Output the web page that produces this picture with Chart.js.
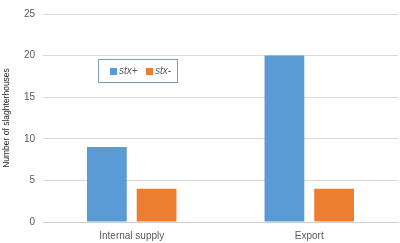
<!DOCTYPE html>
<html lang="en">
<head>
    <meta charset="UTF-8">
    <title>Slaughterhouses</title>
    <script src="https://cdn.jsdelivr.net/npm/chart.js"></script>
    <style>
        html, body { margin: 0; padding: 0; background: #fff; }
        #wrap { width: 400px; height: 243px; position: relative; }
    </style>
</head>
<body>
    <div id="wrap"><canvas id="chart"></canvas></div>

    <script>
        // data
        const categories = ['Internal supply', 'Export'];
        const stxPlus = [9, 20];
        const stxMinus = [4, 4];
        const yTicks = [0, 5, 10, 15, 20, 25];

        const FONT = "'Liberation Sans', Arial, sans-serif";
        const GREY = '#595959';

        // boxed legend inside the plot, like the original
        const boxLegend = {
            id: 'boxLegend',
            afterDraw(chart) {
                const ctx = chart.ctx;
                const x0 = 98, y0 = 59, w = 79, h = 23;
                ctx.save();
                ctx.fillStyle = '#fff';
                ctx.fillRect(x0, y0, w, h);
                ctx.strokeStyle = '#7f9cb5';
                ctx.lineWidth = 1;
                ctx.strokeRect(x0 + 0.5, y0 + 0.5, w, h);
                ctx.font = 'italic 10px ' + FONT;
                ctx.textBaseline = 'middle';
                let x = x0 + 12;
                const cy = y0 + h / 2 + 1;
                chart.data.datasets.forEach(ds => {
                    ctx.fillStyle = ds.backgroundColor;
                    ctx.fillRect(x, cy - 3.5, 7, 7);
                    ctx.fillStyle = GREY;
                    ctx.fillText(ds.label, x + 9, cy);
                    x += 36;
                });
                ctx.restore();
            }
        };

        new Chart(document.getElementById('chart'), {
            type: 'bar',
            data: {
                labels: categories,
                datasets: [
                    { label: 'stx+', data: stxPlus, backgroundColor: '#5B9BD5' },
                    { label: 'stx-', data: stxMinus, backgroundColor: '#ED7D31' }
                ]
            },
            options: {
                responsive: true,
                maintainAspectRatio: false,
                animation: false,
                datasets: { bar: { categoryPercentage: 0.56, barPercentage: 0.8 } },
                layout: { padding: { top: 5, right: 2, left: 0, bottom: 0 } },
                plugins: {
                    legend: { display: false },
                    tooltip: { enabled: false }
                },
                scales: {
                    x: {
                        grid: { display: false, drawTicks: false },
                        border: { color: '#D0D0D0' },
                        ticks: { color: GREY, font: { family: FONT, size: 10 }, padding: 8 },
                        afterFit: s => { s.height = 21; }
                    },
                    y: {
                        min: 0,
                        max: 25,
                        afterBuildTicks: s => { s.ticks = yTicks.map(v => ({ value: v })); },
                        grid: { color: '#D9D9D9', drawTicks: false },
                        border: { display: false },
                        ticks: { color: GREY, font: { family: FONT, size: 10 }, padding: 8 },
                        title: {
                            display: true,
                            text: 'Number of slaghterhouses',
                            color: '#262626',
                            font: { family: FONT, size: 8.5 },
                            padding: { top: 2, bottom: 0 }
                        },
                        afterFit: s => { s.width = 43; }
                    }
                }
            },
            plugins: [boxLegend]
        });
    </script>
</body>
</html>
